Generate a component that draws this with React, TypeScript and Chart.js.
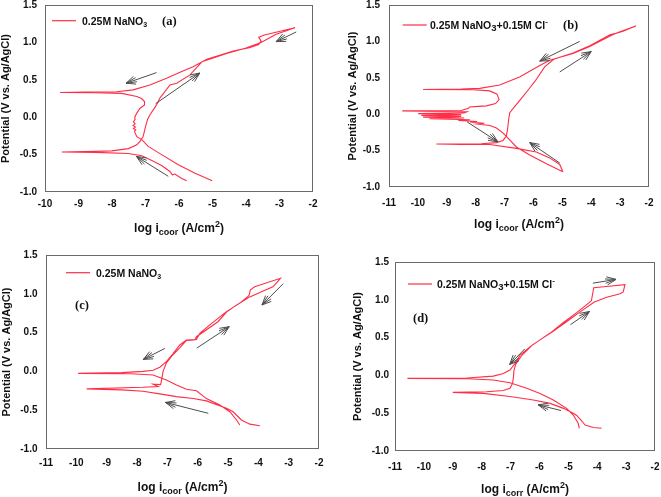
import { useEffect, useRef } from 'react';
import { Chart, registerables } from 'chart.js';

Chart.register(...registerables);

type Pt = [number, number];
type Arrow = [number, number, number, number]; // tail x, tail y, head x, head y (data units)

// ---------------- axes ----------------
const POTENTIAL_RANGE: [number, number] = [-1.0, 1.5];
const POTENTIAL_STEP = 0.5;
const LOGI_RANGE_A: [number, number] = [-10, -2];
const LOGI_RANGE_BCD: [number, number] = [-11, -2];
const LOGI_STEP = 1;

// ---------------- texts ----------------
const Y_TITLE = 'Potential (V vs. Ag/AgCl)';
const X_TITLE_MAIN = 'log i';
const X_TITLE_UNIT = ' (A/cm';
const X_TITLE_SUBS = ['coor', 'coor', 'coor', 'corr'];
const LEGEND_NO3 = ['0.25M NaNO', '3'];
const LEGEND_NO3_CL = ['0.25M NaNO', '3', '+0.15M Cl', '-'];
const PANEL_TAGS = ['(a)', '(b)', '(c)', '(d)'];

// ---------------- curves (log i, E) ----------------
const curveA: Pt[] = [
  [-5.01, -0.85], [-5.52, -0.75], [-6.02, -0.635], [-6.52, -0.5], [-6.92, -0.39], [-7.11, -0.3],
  [-7.26, -0.26], [-7.33, -0.19], [-7.29, -0.17], [-7.36, -0.15], [-7.3, -0.13], [-7.37, -0.11],
  [-7.31, -0.09], [-7.36, -0.06], [-7.31, -0.03], [-7.32, 0.0], [-7.26, 0.055], [-7.16, 0.12],
  [-7.03, 0.165], [-7.03, 0.21], [-7.12, 0.25], [-7.26, 0.276], [-7.71, 0.318], [-8.51, 0.328],
  [-9.55, 0.33], [-8.8, 0.336], [-7.86, 0.34], [-7.37, 0.365], [-6.87, 0.43], [-6.37, 0.52],
  [-5.97, 0.6], [-5.58, 0.676], [-5.17, 0.775], [-4.38, 0.886], [-3.9, 0.93], [-3.62, 0.97],
  [-3.55, 1.02], [-3.62, 1.07], [-3.45, 1.1], [-2.54, 1.197], [-3.1, 1.11], [-3.55, 1.0],
  [-4.0, 0.925], [-4.6, 0.85], [-5.0, 0.79], [-5.32, 0.74], [-5.67, 0.566], [-6.07, 0.455],
  [-6.27, 0.43], [-6.57, 0.255], [-6.67, 0.165], [-6.87, 0.03], [-6.94, -0.03], [-7.01, -0.146],
  [-7.07, -0.26], [-7.16, -0.32], [-7.26, -0.37], [-7.51, -0.42], [-8.01, -0.45], [-8.5, -0.457],
  [-9.5, -0.465], [-8.5, -0.47], [-7.51, -0.485], [-7.11, -0.515], [-6.81, -0.58], [-6.52, -0.645],
  [-6.27, -0.725], [-6.2, -0.77], [-6.12, -0.76], [-5.92, -0.82], [-5.77, -0.85],
];

const curveB: Pt[] = [
  [-4.98, -0.79], [-5.09, -0.77], [-5.55, -0.68], [-6.13, -0.56], [-6.59, -0.45], [-6.88, -0.33],
  [-7.05, -0.26], [-7.28, -0.19], [-7.51, -0.155], [-7.95, -0.135], [-7.7, -0.125], [-8.2, -0.108],
  [-7.95, -0.1], [-8.6, -0.086], [-8.2, -0.076], [-9.6, -0.062], [-8.4, -0.052], [-9.82, -0.04],
  [-8.5, -0.03], [-9.88, -0.016], [-8.5, -0.006], [-9.99, 0.008], [-8.4, 0.018], [-8.3, 0.035],
  [-10.54, 0.045], [-8.5, 0.05], [-8.25, 0.08], [-8.21, 0.1], [-7.9, 0.108], [-7.63, 0.114],
  [-7.31, 0.147], [-7.19, 0.2], [-7.26, 0.275], [-7.51, 0.32], [-8.09, 0.335], [-9.82, 0.34],
  [-8.5, 0.345], [-7.86, 0.355], [-7.17, 0.4], [-6.48, 0.51], [-5.78, 0.67], [-5.44, 0.74],
  [-4.63, 0.835], [-4.05, 0.93], [-3.4, 1.065], [-3.2, 1.1], [-3.05, 1.125], [-2.46, 1.21],
  [-2.9, 1.14], [-3.15, 1.11], [-3.35, 1.09], [-4.05, 0.94], [-4.63, 0.842], [-5.3, 0.755],
  [-5.61, 0.65], [-5.95, 0.45], [-6.15, 0.35], [-6.45, 0.2], [-6.7, 0.08], [-6.82, 0.02],
  [-6.86, -0.08], [-6.9, -0.22], [-6.94, -0.3], [-7.05, -0.36], [-7.28, -0.39], [-7.8, -0.405],
  [-9.36, -0.41], [-8.5, -0.415], [-7.51, -0.417], [-6.59, -0.47], [-5.9, -0.52], [-5.44, -0.6],
  [-5.09, -0.69], [-4.98, -0.79],
];

const curveC: Pt[] = [
  [-4.61, -0.69], [-4.72, -0.626], [-4.94, -0.52], [-5.27, -0.433], [-5.71, -0.35], [-6.04, -0.25],
  [-6.37, -0.23], [-6.7, -0.175], [-7.03, -0.11], [-7.47, -0.046], [-8.2, -0.03], [-9.94, -0.026],
  [-8.5, -0.016], [-7.8, 0.0], [-7.47, 0.015], [-7.25, 0.053], [-7.03, 0.125], [-6.81, 0.23],
  [-6.59, 0.34], [-6.37, 0.405], [-6.04, 0.41], [-5.93, 0.49], [-5.6, 0.6], [-5.05, 0.77],
  [-4.61, 0.88], [-4.31, 0.975], [-4.26, 1.05], [-4.12, 1.09], [-3.27, 1.2], [-3.4, 1.14],
  [-3.52, 1.09], [-3.84, 1.036], [-4.28, 0.96], [-4.7, 0.86], [-5.05, 0.765], [-5.33, 0.64],
  [-6.04, 0.447], [-6.09, 0.405], [-6.37, 0.4], [-6.6, 0.3], [-6.85, 0.2], [-7.03, 0.11],
  [-7.14, 0.0], [-7.19, -0.11], [-7.22, -0.17], [-7.47, -0.165], [-7.3, -0.195], [-7.8, -0.205],
  [-9.66, -0.225], [-8.5, -0.238], [-7.8, -0.255], [-7.25, -0.29], [-6.7, -0.325], [-6.15, -0.35],
  [-5.71, -0.38], [-5.05, -0.475], [-4.83, -0.52], [-4.56, -0.626], [-4.28, -0.68], [-3.95, -0.7],
];

const curveD: Pt[] = [
  [-4.62, -0.7], [-4.66, -0.634], [-4.83, -0.525], [-5.06, -0.436], [-5.52, -0.326], [-5.98, -0.238],
  [-6.44, -0.17], [-7.02, -0.098], [-7.6, -0.06], [-8.5, -0.045], [-10.57, -0.04], [-8.5, -0.035],
  [-7.6, -0.01], [-7.25, 0.026], [-7.02, 0.07], [-6.85, 0.158], [-6.67, 0.268], [-6.33, 0.378],
  [-5.98, 0.47], [-5.63, 0.56], [-5.17, 0.7], [-4.71, 0.83], [-4.3, 0.955], [-4.2, 0.99],
  [-4.12, 1.16], [-3.6, 1.18], [-3.04, 1.2], [-3.1, 1.105], [-3.21, 1.08], [-3.67, 1.035],
  [-4.1, 0.97], [-4.63, 0.83], [-5.1, 0.7], [-5.55, 0.576], [-5.9, 0.49], [-6.25, 0.4],
  [-6.6, 0.27], [-6.82, 0.15], [-6.88, 0.07], [-6.9, -0.02], [-6.93, -0.105], [-7.02, -0.17],
  [-7.25, -0.2], [-7.83, -0.216], [-9.0, -0.225], [-7.94, -0.238], [-7.02, -0.28], [-6.21, -0.326],
  [-5.63, -0.37], [-5.17, -0.436], [-4.83, -0.5], [-4.71, -0.53], [-4.54, -0.6], [-4.42, -0.656],
  [-4.13, -0.69], [-3.85, -0.7],
];

// ---------------- scan-direction arrows ----------------
const arrowsA: Arrow[] = [
  [-6.67, 0.596, -7.58, 0.454], [-6.7, 0.18, -5.38, 0.59], [-2.5, 1.14, -3.1, 1.01], [-6.32, -0.79, -7.27, -0.525],
];
const arrowsB: Arrow[] = [
  [-4.4, 1.0, -5.78, 0.73], [-5.09, 0.58, -4.0, 0.86], [-8.3, -0.105, -7.23, -0.38], [-5.09, -0.67, -6.13, -0.39],
];
const arrowsC: Arrow[] = [
  [-3.18, 1.13, -3.88, 0.856], [-6.03, 0.3, -4.96, 0.576], [-7.08, 0.296, -7.79, 0.155], [-5.65, -0.54, -7.06, -0.4],
];
const arrowsD: Arrow[] = [
  [-4.15, 1.22, -3.35, 1.27], [-4.93, 0.67, -4.27, 0.845], [-6.51, 0.35, -7.03, 0.145], [-5.25, -0.465, -6.04, -0.39],
];

// ---------------- styles / layout ----------------
const RED = 'rgb(255,45,70)';
const ARROW = '#4d4d4d';
const FRAME = '#6a6a6a';
const INK = '#111';
const SANS = '"Liberation Sans", Arial, Helvetica, sans-serif';
const SERIF = '"Liberation Serif", "Times New Roman", serif';

interface Layout {
  left: number; top: number; w: number; h: number;
  plotL: number; plotT: number; plotR: number; plotB: number;
  xTickPad: number; yTickPad: number; yTitleX: number; xTitleY: number;
  legX: number; legY: number; legTextX: number; tagX: number; tagY: number;
}

const LAYOUTS: Layout[] = [
  { left: 0, top: 0, w: 330, h: 248, plotL: 45, plotT: 5, plotR: 313, plotB: 192, xTickPad: 7, yTickPad: 8, yTitleX: 5.5, xTitleY: 231.8, legX: 52, legY: 20.7, legTextX: 82, tagX: 162, tagY: 20.7 },
  { left: 330, top: 0, w: 331, h: 248, plotL: 59, plotT: 5, plotR: 319, plotB: 187, xTickPad: 11, yTickPad: 9, yTitleX: 23.3, xTitleY: 228.2, legX: 72.7, legY: 25, legTextX: 100, tagX: 233, tagY: 25 },
  { left: 0, top: 248, w: 330, h: 249, plotL: 46, plotT: 7, plotR: 319, plotB: 201, xTickPad: 9.5, yTickPad: 8.5, yTitleX: 7.3, xTitleY: 243, legX: 66, legY: 24.7, legTextX: 96, tagX: 75, tagY: 57 },
  { left: 330, top: 248, w: 331, h: 249, plotL: 65, plotT: 14, plotR: 325, plotB: 203, xTickPad: 11, yTickPad: 6, yTitleX: 28.3, xTitleY: 244.7, legX: 78, legY: 36, legTextX: 107, tagX: 83, tagY: 70 },
];

interface PanelDef {
  curve: Pt[]; arrows: Arrow[]; xRange: [number, number]; legend: string[]; withCl: boolean;
  tag: string; xSub: string; layout: Layout;
}

const PANELS: PanelDef[] = [
  { curve: curveA, arrows: arrowsA, xRange: LOGI_RANGE_A, legend: LEGEND_NO3, withCl: false, tag: PANEL_TAGS[0], xSub: X_TITLE_SUBS[0], layout: LAYOUTS[0] },
  { curve: curveB, arrows: arrowsB, xRange: LOGI_RANGE_BCD, legend: LEGEND_NO3_CL, withCl: true, tag: PANEL_TAGS[1], xSub: X_TITLE_SUBS[1], layout: LAYOUTS[1] },
  { curve: curveC, arrows: arrowsC, xRange: LOGI_RANGE_BCD, legend: LEGEND_NO3, withCl: false, tag: PANEL_TAGS[2], xSub: X_TITLE_SUBS[2], layout: LAYOUTS[2] },
  { curve: curveD, arrows: arrowsD, xRange: LOGI_RANGE_BCD, legend: LEGEND_NO3_CL, withCl: true, tag: PANEL_TAGS[3], xSub: X_TITLE_SUBS[3], layout: LAYOUTS[3] },
];

// ---------------- drawing helpers ----------------
interface Run { t: string; s: number; dy?: number; f?: string }

function fontOf(run: Run) {
  return `bold ${run.s}px ${run.f || SANS}`;
}

function drawRich(ctx: CanvasRenderingContext2D, runs: Run[], x: number, y: number, align: 'left' | 'center') {
  let total = 0;
  for (const run of runs) { ctx.font = fontOf(run); total += ctx.measureText(run.t).width; }
  let cx = align === 'center' ? x - total / 2 : x;
  ctx.textAlign = 'left';
  ctx.textBaseline = 'alphabetic';
  for (const run of runs) {
    ctx.font = fontOf(run);
    ctx.fillText(run.t, cx, y + (run.dy || 0));
    cx += ctx.measureText(run.t).width;
  }
}

function drawArrow(ctx: CanvasRenderingContext2D, x1: number, y1: number, x2: number, y2: number) {
  const ang = Math.atan2(y2 - y1, x2 - x1);
  ctx.beginPath();
  ctx.moveTo(x1, y1);
  ctx.lineTo(x2, y2);
  const barb = (a: number, len: number) => {
    ctx.moveTo(x2, y2);
    ctx.lineTo(x2 - len * Math.cos(ang - a), y2 - len * Math.sin(ang - a));
  };
  barb(0.42, 10); barb(-0.42, 10);
  barb(0.2, 11); barb(-0.2, 11);
  ctx.stroke();
}

function makeDecor(p: PanelDef) {
  return {
    id: 'decor',
    afterDraw(chart: any) {
      const ctx: CanvasRenderingContext2D = chart.ctx;
      const ca = chart.chartArea;
      const xs = chart.scales.x, ys = chart.scales.y;
      const L = p.layout;
      ctx.save();
      // frame around the plot area
      ctx.fillStyle = FRAME;
      const fx0 = Math.round(ca.left), fy0 = Math.round(ca.top);
      const fx1 = Math.round(ca.right), fy1 = Math.round(ca.bottom);
      ctx.fillRect(fx0, fy0, fx1 - fx0, 1);
      ctx.fillRect(fx0, fy1 - 1, fx1 - fx0, 1);
      ctx.fillRect(fx0, fy0, 1, fy1 - fy0);
      ctx.fillRect(fx1 - 1, fy0, 1, fy1 - fy0);
      // arrows
      ctx.strokeStyle = ARROW;
      ctx.lineWidth = 1;
      for (const [tx, ty, hx, hy] of p.arrows) {
        drawArrow(ctx, xs.getPixelForValue(tx), ys.getPixelForValue(ty), xs.getPixelForValue(hx), ys.getPixelForValue(hy));
      }
      // legend
      ctx.strokeStyle = RED;
      ctx.lineWidth = 1.2;
      ctx.beginPath();
      ctx.moveTo(L.legX, L.legY);
      ctx.lineTo(L.legX + 24, L.legY);
      ctx.stroke();
      ctx.fillStyle = INK;
      const base = L.legY + 3.8;
      const legRuns: Run[] = p.withCl
        ? [{ t: p.legend[0], s: 10.5 }, { t: p.legend[1], s: 9.5, dy: 2 }, { t: p.legend[2], s: 10.5 }, { t: p.legend[3], s: 8, dy: -4.5 }]
        : [{ t: p.legend[0], s: 10.5 }, { t: p.legend[1], s: 7, dy: 2.5 }];
      drawRich(ctx, legRuns, L.legTextX, base, 'left');
      // panel tag
      drawRich(ctx, [{ t: p.tag, s: 12.5, f: SERIF }], L.tagX, L.tagY + 4.2, 'left');
      // x title
      const cxm = (ca.left + ca.right) / 2;
      drawRich(ctx, [
        { t: X_TITLE_MAIN, s: 12 }, { t: p.xSub, s: 9, dy: 3 }, { t: X_TITLE_UNIT, s: 12 },
        { t: '2', s: 9, dy: -5 }, { t: ')', s: 12 },
      ], cxm, L.xTitleY, 'center');
      // y title
      ctx.translate(L.yTitleX, (ca.top + ca.bottom) / 2);
      ctx.rotate(-Math.PI / 2);
      ctx.font = `bold 11px ${SANS}`;
      ctx.textAlign = 'center';
      ctx.textBaseline = 'middle';
      ctx.fillText(Y_TITLE, 0, 0);
      ctx.restore();
    },
  };
}

function Panel({ p }: { p: PanelDef }) {
  const ref = useRef<HTMLCanvasElement>(null);
  useEffect(() => {
    const L = p.layout;
    const tickFont = { family: SANS, size: 10, weight: 'bold' as const, lineHeight: 1 };
    const zeroPad = (s: any) => { s.paddingTop = 0; s.paddingBottom = 0; s.paddingLeft = 0; s.paddingRight = 0; };
    const chart = new Chart(ref.current as HTMLCanvasElement, {
      type: 'scatter',
      data: {
        datasets: [{
          data: p.curve.map(([x, y]) => ({ x, y })),
          showLine: true,
          borderColor: RED,
          borderWidth: 1.1,
          pointRadius: 0,
          pointHoverRadius: 0,
          tension: 0,
          fill: false,
        }],
      },
      options: {
        animation: false,
        responsive: false,
        devicePixelRatio: 1,
        events: [],
        layout: { padding: { left: 0, top: L.plotT, right: L.w - L.plotR, bottom: 0 } },
        plugins: { legend: { display: false }, tooltip: { enabled: false } },
        scales: {
          x: {
            type: 'linear',
            min: p.xRange[0],
            max: p.xRange[1],
            grid: { display: false, drawTicks: false },
            border: { display: false },
            ticks: { stepSize: LOGI_STEP, font: tickFont, color: INK, padding: L.xTickPad, callback: (v: any) => String(v), maxRotation: 0, autoSkip: false },
            afterFit: (s: any) => { s.height = L.h - L.plotB; zeroPad(s); },
          },
          y: {
            type: 'linear',
            min: POTENTIAL_RANGE[0],
            max: POTENTIAL_RANGE[1],
            grid: { display: false, drawTicks: false },
            border: { display: false },
            ticks: { stepSize: POTENTIAL_STEP, font: tickFont, color: INK, padding: L.yTickPad, callback: (v: any) => Number(v).toFixed(1), autoSkip: false },
            afterFit: (s: any) => { s.width = L.plotL; zeroPad(s); },
          },
        },
      },
      plugins: [makeDecor(p)],
    } as any);
    return () => chart.destroy();
  }, [p]);
  const L = p.layout;
  return (
    <canvas
      ref={ref}
      width={L.w}
      height={L.h}
      style={{ position: 'absolute', left: L.left, top: L.top, width: L.w, height: L.h }}
    />
  );
}

export default function App() {
  return (
    <div style={{ position: 'absolute', left: 0, top: 0, width: 661, height: 497, background: '#fff' }}>
      {PANELS.map((p) => <Panel key={p.tag} p={p} />)}
    </div>
  );
}
